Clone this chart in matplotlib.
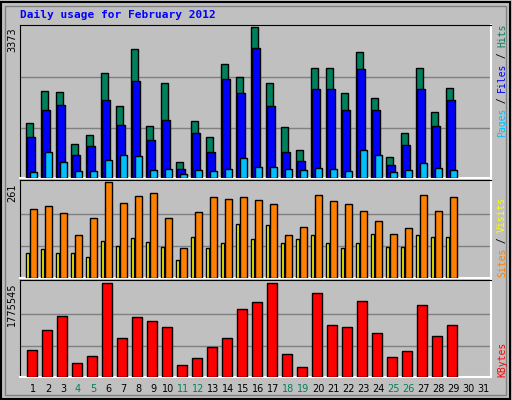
import matplotlib
matplotlib.use('Agg')
import matplotlib.pyplot as plt
from matplotlib.patches import Rectangle

days = list(range(1, 30))
hits = [1234, 1955, 1924, 751, 958, 2338, 1602, 2890, 1165, 2131, 360, 1280, 912, 2545, 2246,
        3373, 2131, 1142, 636, 2453, 2453, 1901, 2821, 1786, 475, 1004, 2453, 1464, 2016]
files = [912, 1510, 1625, 521, 705, 1740, 1188, 2177, 843, 1303, 199, 1004, 590, 2223, 1901,
         2913, 1602, 590, 383, 1993, 1993, 1510, 2430, 1510, 291, 728, 1993, 1165, 1740]
pages = [130, 590, 360, 153, 153, 406, 521, 498, 176, 199, 84, 176, 153, 199, 452,
         245, 245, 199, 176, 222, 199, 153, 636, 521, 130, 176, 337, 222, 176]
sites = [187, 196, 176, 116, 162, 261, 204, 224, 230, 162, 82, 179, 221, 216, 221,
         213, 201, 116, 139, 227, 210, 201, 182, 156, 119, 136, 227, 182, 221]
visits = [68, 79, 68, 68, 57, 102, 88, 108, 99, 85, 48, 111, 82, 96, 148,
          105, 145, 94, 105, 116, 94, 82, 94, 119, 85, 85, 116, 111, 111]
kbytes = [511920, 894240, 1146960, 272160, 388800, 1775545, 738720, 1127520, 1049760, 952560,
          233280, 349920, 563760, 738720, 1283040, 1419120, 1775545, 427680, 194400, 1594080,
          991440, 952560, 1438560, 835920, 369360, 486000, 1360800, 777600, 991440]
weekends = [4, 5, 11, 12, 18, 19, 25, 26]

W, H = 512, 400
BG = '#c0c0c0'
fig = plt.figure(figsize=(W / 100, H / 100), dpi=100, facecolor=BG)

# outer frame
fig.patches.append(Rectangle((1 / W, 1 / H), 509 / W, 397 / H, transform=fig.transFigure,
                             fill=False, edgecolor='black', lw=1.5))
fig.patches.append(Rectangle((5 / W, 5 / H), 501 / W, 389 / H, transform=fig.transFigure,
                             fill=False, edgecolor='#808080', lw=1))

fig.text(20 / W, 1 - 15 / H, 'Daily usage for February 2012', color='#0000ff',
         family='DejaVu Sans Mono', weight='bold', fontsize=8, va='center')


def panel(y0, y1):
    ax = fig.add_axes([20 / W, 1 - y1 / H, 471 / W, (y1 - y0) / H])
    ax.set_facecolor(BG)
    ax.set_xlim(0.133, 31.533)
    ax.set_xticks([])
    ax.set_yticks([])
    for s in ['top', 'left']:
        ax.spines[s].set_color('black')
    for s in ['bottom', 'right']:
        ax.spines[s].set_color('white')
        ax.spines[s].set_linewidth(1.5)
    return ax


def bars(ax, vals, left, width, color):
    ax.bar([d + left for d in days], vals, width=width, align='edge', color=color,
           edgecolor='black', linewidth=1, zorder=3)


def grid(ax, top):
    for f in (1 / 3, 2 / 3):
        ax.axhline(top * f, color='#808080', lw=1, zorder=1)


ax1 = panel(25, 178)
ax1.set_ylim(0, 3373 * 149 / 147)
grid(ax1, 3373)
bars(ax1, hits, -0.5, 0.47, '#00805c')
bars(ax1, files, -0.4, 0.53, '#0000ff')
bars(ax1, pages, -0.23, 0.47, '#00c0ff')

ax2 = panel(180, 278)
ax2.set_ylim(0, 261 * 94 / 92)
grid(ax2, 261)
bars(ax2, visits, -0.5, 0.25, '#ffff00')
bars(ax2, sites, -0.23, 0.47, '#ff8000')

ax3 = panel(280, 377)
ax3.set_ylim(0, 1775545 * 94 / 91)
grid(ax3, 1775545)
bars(ax3, kbytes, -0.43, 0.67, '#ff0000')

# left max labels
for y, t in [(27, '3373'), (183, '261'), (283, '1775545')]:
    fig.text(17 / W, 1 - y / H, t, rotation=90, ha='right', va='top', fontsize=7,
             color='black')

# right legends
def rlabel(y, parts):
    ypos = y
    for txt, col in parts:
        t = fig.text(497 / W, 1 - ypos / H, txt, rotation=90, ha='left', va='bottom',
                     fontsize=7, family='DejaVu Sans Mono', color=col)
        ypos -= len(txt) * 5.6


rlabel(137, [('Pages', '#00c0ff'), (' / ', 'black'), ('Files', '#0000ff'),
             (' / ', 'black'), ('Hits', '#00805c')])
rlabel(277, [('Sites', '#ff8000'), (' / ', 'black'), ('Visits', '#ffff00')])
rlabel(377, [('KBytes', '#ff0000')])

# day labels
for d in range(1, 32):
    x = (20 + (d - 0.133) * 15) / W
    fig.text(x, 1 - 389 / H, str(d), ha='center', va='center', fontsize=7,
             color='#00805c' if d in weekends else 'black')

fig.savefig('out.png', dpi=100, facecolor=BG)
